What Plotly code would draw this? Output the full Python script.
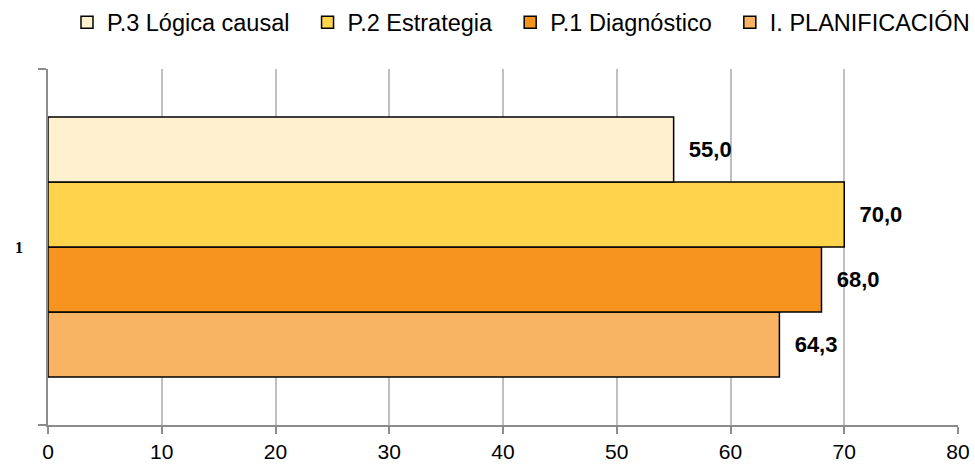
import plotly.graph_objects as go

categories = ["1"]
series_names = ["I. PLANIFICACIÓN", "P.1 Diagnóstico  ", "P.2 Estrategia  ", "P.3 Lógica causal  "]
series_values = [[64.3], [68.0], [70.0], [55.0]]
series_colors = ["#F8B463", "#F7941F", "#FFD34C", "#FFF1CF"]
x_ticks = [0, 10, 20, 30, 40, 50, 60, 70, 80]

W, H = 975, 464

fig = go.Figure()
for name, vals, col in zip(series_names, series_values, series_colors):
    fig.add_trace(go.Bar(
        y=categories, x=vals, name=name, orientation="h",
        marker=dict(color=col, line=dict(color="#000000", width=1.5)),
        text=vals, texttemplate="  %{x:.1f}", textposition="outside",
        textfont=dict(family="Liberation Sans, Arial", size=22, color="#000000", weight="bold"),
        cliponaxis=False,
    ))

fig.update_layout(
    width=W, height=H,
    margin=dict(l=48, r=17, t=69, b=39, autoexpand=False),
    paper_bgcolor="white", plot_bgcolor="white",
    barmode="group", bargap=0.27, bargroupgap=0,
    separators=",.",
    font=dict(family="Liberation Sans, Arial", size=21, color="#000000"),
    showlegend=True,
    legend=dict(orientation="h", x=67 / W, xanchor="left", xref="container",
                y=1 - 22.5 / H, yanchor="middle", yref="container",
                traceorder="reversed", itemwidth=30,
                font=dict(size=23.5, color="#000000")),
    xaxis=dict(range=[0, 80], tickvals=x_ticks, showgrid=True, gridcolor="#C0C0C0", gridwidth=1.5,
               showline=True, linecolor="#8C8C8C", linewidth=1.5,
               ticks="outside", ticklen=7, tickcolor="#8C8C8C", tickwidth=1.5,
               zeroline=False, tickfont=dict(size=21), automargin=False),
    yaxis=dict(type="category", showline=True, linecolor="#8C8C8C", linewidth=1.5,
               ticks="outside", tickson="boundaries", ticklen=8, tickcolor="#8C8C8C", tickwidth=1.5,
               showgrid=False, automargin=False, ticklabelstandoff=20,
               tickfont=dict(family="Liberation Serif, DejaVu Serif", size=16, weight="bold"),
               range=[-0.5, 0.5]),
)
fig.write_html("out.html", config={"displayModeBar": False},
               post_script="document.body.style.margin='0';document.body.style.overflow='hidden';")
